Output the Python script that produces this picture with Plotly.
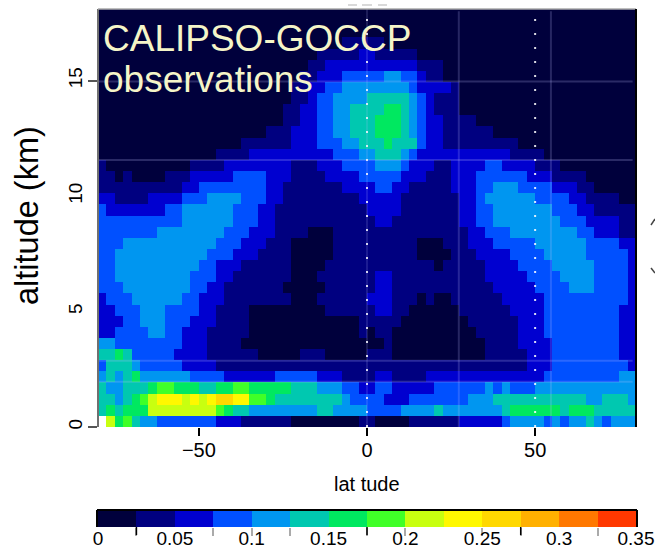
import plotly.graph_objects as go

# Cloud-fraction class of every cell, bottom row first, one character per 2.5 deg
# of latitude ('.' = no data; 0-9, A-D = the colour-key classes, each 0.025 wide).
CELL_CLASSES = [
    ".8675443333333222111111000000001" "10000111111222223444434344543444",
    "56566688888888765544444444554444" "33334444544444445666666566655555",
    "55456789998989AA9977655555555433" "33222333333344455555555555445554",
    "54455567766655667766666555444332" "23322222333333434333444444444444",
    "45456444444333322222233333222111" "122" "1111" + "2"*14 + "3"*9 + "44",
    "35554333332222" + "1"*18 + "1"*19 + "222" + "3"*9 + "2",
    "55653333322221111110000011100000" "111" + "0"*11 + "11111222" + "3"*8 + "22",
    "44" + "3"*8 + "2221111" + "0"*15 + "001" + "0"*11 + "11112222" + "3"*8 + "22",
    "22333344" "3322211111" + "0"*13 + "1" + "011" + "0"*10 + "11111222" + "3"*9 + "22",
    "22233444333222" "1111" + "0"*13 + "1" + "1111" + "0"*8 + "111111222" + "3"*9 + "22",
    "223334443333221111" + "0"*9 + "11111" + "12211" + "0"*6 + "1111112222" + "3"*9 + "22",
    "2333444444332221111" "1111" "00011" "1111" "222111" "0100" "111111" "22222" + "3"*10 + "2",
    "333" + "4"*8 + "3322" + "1"*7 + "00000" "11111" "122" + "1"*12 + "22222" "3333" "444" "3333" "2",
    "33" + "4"*9 + "33322" + "1"*7 + "000111111" "122" + "1"*11 + "22222" "3333" "4444" "3333" "2",
    "33" + "4"*10 + "33222" + "1"*6 + "000011111" + "1"*8 + "0" "11111" "2222" "3333" "44444" "3333" "2",
    "33" + "4"*11 + "333222" "1111" "00000" "1111" "111111" "0000" "111" "2222" "3333" "44444" "33333" "2",
    "333" + "4"*11 + "333222111" "00000" "1111" "111111" "000" "111" "222" "33333" "444444" "3333" "22",
    "3"*7 + "4"*8 + "3332221111" "000" "1111" + "1"*12 + "22" "333" + "4"*8 + "33" "222" "11",
    "3"*10 + "444444" "33322" + "1"*11 + "122" + "1"*8 + "22" "33" + "4"*8 + "333" "2222" "11",
    "3" + "2"*7 + "33" "444444" "33322" + "1"*11 + "2222" + "1"*7 + "22" "33" + "4"*7 + "333" "22" "11111",
    "22111122223334444" "33322" + "1"*9 + "2" "2222" + "1"*7 + "22" "3" "444444" "3333" "22" "1111" "00",
    "1"*10 + "22" + "3"*8 + "22" + "1"*7 + "222" "2" "33" "22" "11111" "222" "33" "444" "3333" "222" "11" "00000",
    "11010000" "111" "22222" "3333" "222" "1111" "2222" "3" "3333" "222" "111" "222" "333333" "222" "1111" "000000",
    "1" + "0"*10 + "1111" + "2"*8 + "111" "222" "333" "3" "444" "3" "222" "11" "2222" "33" "2222" "111" + "0"*9,
    "0"*14 + "1111" + "2"*10 + "333" "4" "4" "555" "4" "3" "2222" + "2"*7 + "1111" + "0"*11,
    "0"*17 + "1"*6 + "222" "333" "44" "5" "55" "6" "555" "3" "22" + "1"*9 + "0"*14,
    "0"*20 + "111" "222" "33" "44" "55" "5" "666" "5" "4" "3" "22" + "1"*6 + "0"*17,
    "0"*22 + "11" "22" "33" "44" "55" "5" "666" "5" "4" "3" "22" "1111" + "0"*19,
    "0"*22 + "11" "22" "33" "44" "55" "55" "66" "5" "4" "3" "2" "111" + "0"*21,
    "0"*23 + "11" "2" "33" "4444" "55555" "4" "3" "2" "111" + "0"*21,
    "0"*23 + "11" "22" "33" "444" "44444" "3" "2222" "1" + "0"*21,
    "0"*24 + "11" "222" "333" "33" "44" "33" "2" "11" + "0"*23,
    "0"*25 + "11" "22222" "222222" "111" + "0"*23,
    "0"*26 + "11111" "2" "2" "11111" + "0"*26,
    "0"*29 + "111" "11" + "0"*30,
    "0"*64,
    "0"*64,
    "0"*64,
]
CLASS_CODES = "0123456789ABCD"
CLASS_COLOURS = ["#00003c", "#000080", "#0000d0", "#0050ff", "#0096f0", "#00c8b0", "#00e860",
                 "#40ff28", "#c8ff10", "#fff800", "#ffd800", "#ffb000", "#ff7800", "#ff3800"]
CLASS_WIDTH = 0.025
LAT_EDGES = [-80 + 2.5 * i for i in range(65)]
ALT_EDGES = [0.482 * i for i in range(39)]
KEY_EDGES = [CLASS_WIDTH * i for i in range(15)]
KEY_LABELS = ["0", "0.05", "0.1", "0.15", "0.2", "0.25", "0.3", "0.35"]
KEY_LABEL_VALUES = [0, 0.05, 0.1, 0.15, 0.2, 0.25, 0.3, 0.35]
KEY_TICK_VALUES = [0.025, 0.075, 0.1, 0.125, 0.175, 0.2, 0.25, 0.275, 0.325]
KEY_DARK_TICK_VALUES = [0.025, 0.175, 0.275]
GRID_LATS = [27.3, 54.7]
GRID_ALTS = [14.96, 11.56, 2.87, 1.96]
DOTTED_LATS = [0, 50]

bad = [(n, len(r)) for n, r in enumerate(CELL_CLASSES) if len(r) != 64]
assert not bad, bad

z = [[None if c == "." else (CLASS_CODES.index(c) + 0.5) * CLASS_WIDTH for c in r] for r in CELL_CLASSES]
key_z = [[(i + 0.5) * CLASS_WIDTH for i in range(14)]]
scale = []
for i, col in enumerate(CLASS_COLOURS):
    scale += [[i / 14, col], [(i + 1) / 14, col]]

W, H = 655, 550
fx = lambda p: p / W
fy = lambda p: 1 - p / H
FONT = "Liberation Sans"

fig = go.Figure()
fig.add_trace(go.Heatmap(z=z, x=LAT_EDGES, y=ALT_EDGES, zmin=0, zmax=0.35, colorscale=scale,
                         showscale=False, xaxis="x", yaxis="y"))
fig.add_trace(go.Heatmap(z=key_z, x=KEY_EDGES, y=[0, 1], zmin=0, zmax=0.35, colorscale=scale,
                         showscale=False, xaxis="x2", yaxis="y2"))

shapes = []
for v in GRID_LATS:
    shapes.append(dict(type="line", xref="x", yref="y", x0=v, x1=v, y0=0, y1=18,
                       line=dict(color="rgba(190,190,255,0.2)", width=2), layer="above"))
for v in GRID_ALTS:
    shapes.append(dict(type="line", xref="x", yref="y", x0=-80, x1=79, y0=v, y1=v,
                       line=dict(color="rgba(190,190,255,0.22)", width=2), layer="above"))
for v in DOTTED_LATS:
    shapes.append(dict(type="line", xref="x", yref="y", x0=v, x1=v, y0=0, y1=18.1,
                       line=dict(color="rgba(255,255,255,0.85)", width=2, dash="2px,12px"), layer="above"))
shapes.append(dict(type="line", xref="x", yref="y", x0=0, x1=0, y0=0, y1=18.1,
                   line=dict(color="rgba(190,190,255,0.3)", width=1), layer="above"))
# frame
shapes.append(dict(type="line", xref="paper", yref="paper", x0=fx(98), x1=fx(98), y0=fy(427), y1=fy(9),
                   line=dict(color="#707070", width=2), layer="above"))
shapes.append(dict(type="line", xref="paper", yref="paper", x0=fx(98), x1=fx(636), y0=fy(9), y1=fy(9),
                   line=dict(color="#aaaaaa", width=1.5), layer="above"))
shapes.append(dict(type="line", xref="paper", yref="paper", x0=fx(636), x1=fx(636), y0=fy(427), y1=fy(9),
                   line=dict(color="#000000", width=2), layer="above"))
for a, b in [(348, 357), (362, 372), (378, 387)]:
    shapes.append(dict(type="line", xref="paper", yref="paper", x0=fx(a), x1=fx(b), y0=fy(5), y1=fy(5),
                       line=dict(color="#cccccc", width=1.5)))
for (xa, ya, xb, yb) in [(651, 225, 655, 219), (651, 268, 655, 273)]:
    shapes.append(dict(type="line", xref="paper", yref="paper", x0=fx(xa), x1=fx(xb), y0=fy(ya), y1=fy(yb),
                       line=dict(color="#444444", width=1.5)))
# colour key: top edge and the darker tick marks
shapes.append(dict(type="line", xref="paper", yref="paper", x0=fx(97), x1=fx(637), y0=fy(510), y1=fy(510),
                   line=dict(color="#000000", width=2), layer="above"))
for v in KEY_DARK_TICK_VALUES:
    shapes.append(dict(type="line", xref="x2", yref="paper", x0=v, x1=v, y0=fy(527), y1=fy(535),
                       line=dict(color="#000000", width=1.5), layer="above"))

annotations = [
    dict(text="CALIPSO-GOCCP", x=fx(101), y=fy(38), xref="paper", yref="paper", xanchor="left", yanchor="middle",
         showarrow=False, font=dict(family=FONT, size=37, color="#f5f5c8")),
    dict(text="observations", x=fx(101), y=fy(79), xref="paper", yref="paper", xanchor="left", yanchor="middle",
         showarrow=False, font=dict(family=FONT, size=37, color="#f5f5c8")),
    dict(text="altitude (km)", x=fx(27), y=fy(216), xref="paper", yref="paper", textangle=-90,
         xanchor="center", yanchor="middle",
         showarrow=False, font=dict(family=FONT, size=32.5, color="#000000")),
    dict(text="lat tude", x=fx(367), y=fy(484), xref="paper", yref="paper", xanchor="center", yanchor="middle",
         showarrow=False, font=dict(family=FONT, size=20, color="#000000")),
]

fig.update_layout(
    width=W, height=H, autosize=False, margin=dict(l=0, r=0, t=0, b=0),
    paper_bgcolor="white", plot_bgcolor="white", shapes=shapes, annotations=annotations, showlegend=False,
    font=dict(family=FONT, color="#000000"),
    xaxis=dict(domain=[fx(98), fx(636)], range=[-80, 80], tickvals=[-50, 0, 50], ticktext=["\u221250", "0", "50"],
               ticks="outside", ticklen=8, tickwidth=2, tickcolor="#000000", showgrid=False, zeroline=False,
               tickfont=dict(size=20), anchor="y", automargin=False, ticklabelstandoff=-3),
    yaxis=dict(domain=[fy(427), fy(9)], range=[0, 18.1], tickvals=[0, 5, 10, 15], tickangle=-90,
               ticks="", showgrid=False, zeroline=False, ticklabelstandoff=11,
               minor=dict(tickvals=[0, 15], ticks="outside", ticklen=9, tickwidth=1.5, tickcolor="#555555", showgrid=False),
               tickfont=dict(size=19), anchor="x", automargin=False),
    xaxis2=dict(domain=[fx(98), fx(636)], range=[0, 0.35], tickvals=KEY_LABEL_VALUES, ticktext=KEY_LABELS,
                ticks="", showgrid=False, zeroline=False, tickfont=dict(size=19), anchor="y2", ticklabelstandoff=-2,
                minor=dict(tickvals=KEY_TICK_VALUES, ticks="outside", ticklen=8, tickwidth=1.5, tickcolor="#aaaaaa", showgrid=False),
                showline=False, automargin=False),
    yaxis2=dict(domain=[fy(527), fy(510)], range=[0, 1], showticklabels=False, ticks="", showgrid=False, zeroline=False,
                anchor="x2", showline=True, linecolor="#000000", linewidth=2, mirror=True, automargin=False),
)
fig.write_html("out.html", config={"displayModeBar": False}, post_script="document.body.style.margin='0';")
